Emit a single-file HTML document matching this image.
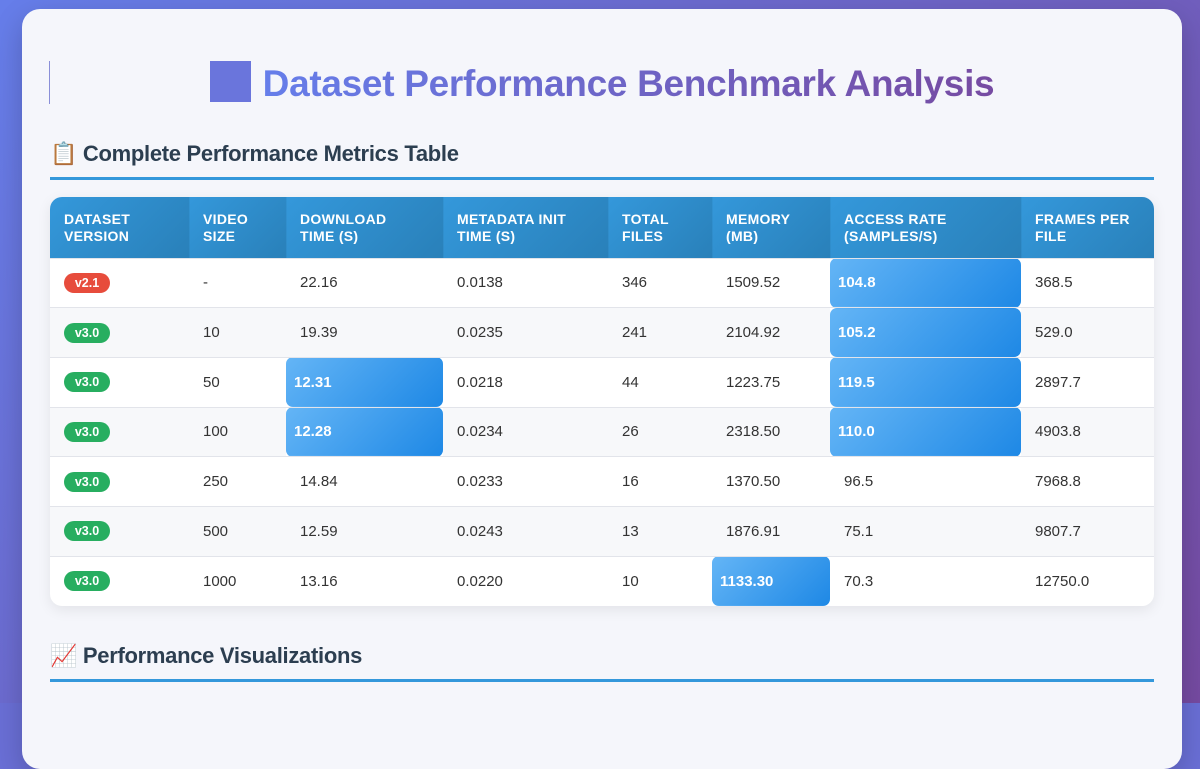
<!DOCTYPE html>
<html style="background:#6a6fd6"><head><meta charset="utf-8"><style>
*{box-sizing:border-box;margin:0;padding:0}
html,body{width:1200px;height:703px;overflow:hidden}
body{background:linear-gradient(135deg,#667eea,#764ba2);font-family:"Liberation Sans",sans-serif}
.c{position:absolute;left:22px;top:9px;width:1160px;height:760px;background:#f5f6fb;border-radius:18px;box-shadow:0 10px 30px rgba(0,0,0,.2)}
.vl{position:absolute;left:27px;top:52px;width:1px;height:43px;background:#8a8fd8}
h1{position:absolute;left:0;width:1160px;top:52px;text-align:center;font-size:37px;font-weight:bold;line-height:44px;letter-spacing:-0.3px}
h1 .sq{display:inline-block;width:41px;height:41px;background:#6a75dc;vertical-align:-6px;margin-right:12px}
h1 .t{background:linear-gradient(90deg,#667eea,#764ba2);-webkit-background-clip:text;color:transparent}
h2{position:absolute;left:28px;width:1104px;font-size:22px;font-weight:bold;color:#2c3e50;border-bottom:3px solid #3498db;height:39px;line-height:26px;letter-spacing:-0.3px}
table{position:absolute;left:28px;top:188px;width:1104px;border-collapse:collapse;border-radius:12px;overflow:hidden;box-shadow:0 4px 14px rgba(0,0,0,.08);background:#fff}
th{background:linear-gradient(135deg,#3498db,#2980b9);color:#fff;text-align:left;font-size:14px;font-weight:bold;padding:0 14px;height:61px;line-height:17px;letter-spacing:.3px;vertical-align:middle;padding-top:2px}
th+th{box-shadow:inset 1px 0 0 rgba(0,0,0,.04)}
td{height:49.7px;padding:0 14px;font-size:15px;color:#333;border-top:1px solid #e2e4ea;position:relative}
tr:nth-child(odd) td{background:#f7f8fa}
td.h{background:linear-gradient(135deg,#64b5f6,#1e88e5)!important;color:#fff;font-weight:bold;border-radius:7px;padding-left:8px}
.b{display:inline-block;width:46px;height:20px;border-radius:10px;color:#fff;font-size:12.5px;font-weight:bold;text-align:center;line-height:20px}
.g{background:#27ae60}.r{background:#e74c3c}
</style></head><body>
<div class="c">
<div class="vl"></div>
<h1><span class="sq"></span><span class="t">Dataset Performance Benchmark Analysis</span></h1>
<h2 style="top:132px">📋 Complete Performance Metrics Table</h2>
<table>
<colgroup><col style="width:139px"><col style="width:97px"><col style="width:157px"><col style="width:165px"><col style="width:104px"><col style="width:118px"><col style="width:191px"><col style="width:133px"></colgroup>
<tr><th>DATASET<br>VERSION</th><th>VIDEO<br>SIZE</th><th>DOWNLOAD<br>TIME (S)</th><th>METADATA INIT<br>TIME (S)</th><th>TOTAL<br>FILES</th><th>MEMORY<br>(MB)</th><th>ACCESS RATE<br>(SAMPLES/S)</th><th>FRAMES PER<br>FILE</th></tr>
<tr><td><span class="b r">v2.1</span></td><td>-</td><td>22.16</td><td>0.0138</td><td>346</td><td>1509.52</td><td class="h">104.8</td><td>368.5</td></tr>
<tr><td><span class="b g">v3.0</span></td><td>10</td><td>19.39</td><td>0.0235</td><td>241</td><td>2104.92</td><td class="h">105.2</td><td>529.0</td></tr>
<tr><td><span class="b g">v3.0</span></td><td>50</td><td class="h">12.31</td><td>0.0218</td><td>44</td><td>1223.75</td><td class="h">119.5</td><td>2897.7</td></tr>
<tr><td><span class="b g">v3.0</span></td><td>100</td><td class="h">12.28</td><td>0.0234</td><td>26</td><td>2318.50</td><td class="h">110.0</td><td>4903.8</td></tr>
<tr><td><span class="b g">v3.0</span></td><td>250</td><td>14.84</td><td>0.0233</td><td>16</td><td>1370.50</td><td>96.5</td><td>7968.8</td></tr>
<tr><td><span class="b g">v3.0</span></td><td>500</td><td>12.59</td><td>0.0243</td><td>13</td><td>1876.91</td><td>75.1</td><td>9807.7</td></tr>
<tr><td><span class="b g">v3.0</span></td><td>1000</td><td>13.16</td><td>0.0220</td><td>10</td><td class="h">1133.30</td><td>70.3</td><td>12750.0</td></tr>
</table>
<h2 style="top:634px">📈 Performance Visualizations</h2>
</div>
</body></html>
